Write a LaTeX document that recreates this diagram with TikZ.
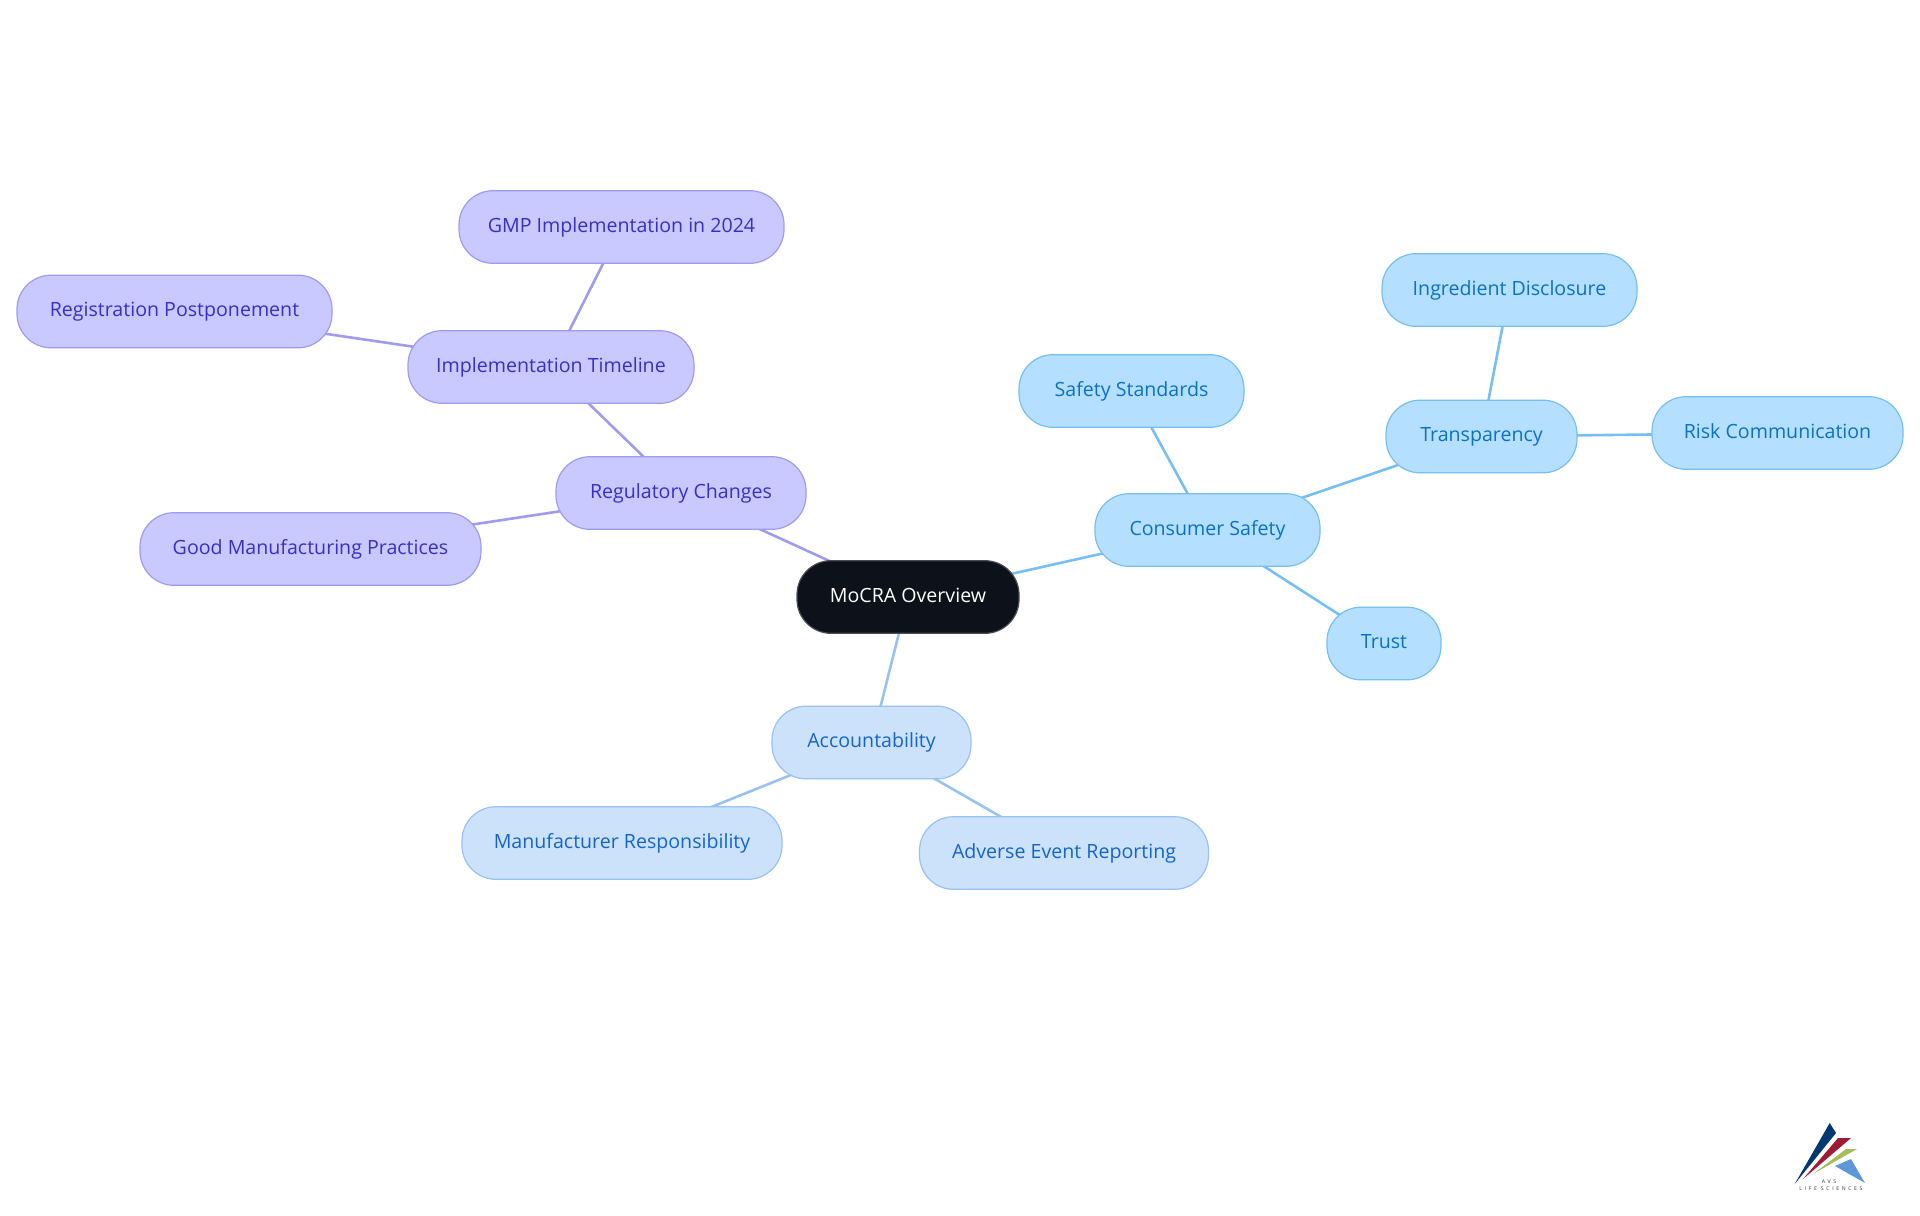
\documentclass[tikz,border=0pt]{standalone}
\usepackage{fontspec}
\setmainfont{Open Sans}
\usetikzlibrary{backgrounds}
\definecolor{rootfill}{HTML}{0C111A}
\definecolor{violetfill}{HTML}{C9C9FF}
\definecolor{violetline}{HTML}{9E9BF0}
\definecolor{violettext}{HTML}{3A2FC4}
\definecolor{skyfill}{HTML}{B5DFFF}
\definecolor{skyline}{HTML}{75BFF2}
\definecolor{skytext}{HTML}{0A72C4}
\definecolor{palefill}{HTML}{CCE2FB}
\definecolor{paleline}{HTML}{97C2F2}
\definecolor{paletext}{HTML}{1565C8}
\tikzset{
  mapnode/.style={rectangle,rounded corners=17pt,minimum height=36.3pt,inner sep=0pt,line width=0.6pt,text height=7.4pt,text depth=2.1pt,font=\fontsize{9.8}{12}\selectfont},
  rootnode/.style={mapnode,fill=rootfill,draw=rootfill!75!white,text=white},
  violetnode/.style={mapnode,fill=violetfill,draw=violetline,text=violettext},
  skynode/.style={mapnode,fill=skyfill,draw=skyline,text=skytext},
  palenode/.style={mapnode,fill=palefill,draw=paleline,text=paletext},
  mapedge/.style={line width=1.3pt},
  logotext/.style={inner sep=0pt,font=\fontsize{2.6}{3}\selectfont\addfontfeature{LetterSpace=50},text=black!80},
}
\begin{document}
\begin{tikzpicture}[x=0.5pt,y=-0.5pt]
  \useasboundingbox (0,0) rectangle (1920,1215);
  \node (root) [rootnode,minimum width=111pt] at (908,597) {MoCRA Overview};
  % regulatory branch
  \foreach \n/\x/\y/\w/\t in {reg/681/493/125/Regulatory Changes,
      timeline/551/367/143/Implementation Timeline,
      gmp/621.5/227/162.5/GMP Implementation in 2024,
      postpone/174.5/311.5/157.5/Registration Postponement,
      practices/310.5/549/170.5/Good Manufacturing Practices}{
    \node (\n) [violetnode,minimum width=\w pt] at (\x,\y) {\t};
  }
  % safety branch
  \foreach \n/\x/\y/\w/\t in {safety/1207.5/530/112.5/Consumer Safety,
      standards/1131.5/391/112.5/Safety Standards,
      transparency/1481.5/436.5/95.5/Transparency,
      ingredient/1509.5/290/127.5/Ingredient Disclosure,
      risk/1777.5/433/125.5/Risk Communication,
      trust/1384/643.5/57/Trust}{
    \node (\n) [skynode,minimum width=\w pt] at (\x,\y) {\t};
  }
  % accountability branch
  \foreach \n/\x/\y/\w/\t in {account/871.5/742.5/99.5/Accountability,
      maker/622/843/160/Manufacturer Responsibility,
      adverse/1064/853/144.5/Adverse Event Reporting}{
    \node (\n) [palenode,minimum width=\w pt] at (\x,\y) {\t};
  }
  \begin{scope}[on background layer]
    \foreach \a/\b in {root/reg,reg/timeline,timeline/gmp,timeline/postpone,reg/practices}{
      \draw [mapedge,violetline] (\a.center) to (\b.center);
    }
    \foreach \a/\b in {root/safety,safety/standards,safety/transparency,transparency/ingredient,transparency/risk,safety/trust}{
      \draw [mapedge,skyline] (\a.center) to (\b.center);
    }
    \foreach \a/\b in {root/account,account/maker,account/adverse}{
      \draw [mapedge,paleline] (\a.center) to (\b.center);
    }
  \end{scope}
  % logo
  \fill [color={rgb,255:red,0;green,56;blue,112}] (1829.7,1123) -- (1836,1133) -- (1794.7,1184) -- cycle;
  \fill [color={rgb,255:red,160;green,28;blue,52}] (1838,1138) -- (1851,1138) -- (1803,1179) -- cycle;
  \fill [color={rgb,255:red,168;green,188;blue,92}] (1846,1149) -- (1857,1149) -- (1813,1174) -- cycle;
  \fill [color={rgb,255:red,92;green,152;blue,216}] (1835,1166) -- (1851,1159) -- (1865,1183) -- cycle;
  \node (avs) [logotext] at (1829,1182) {AVS};
  \node (life) [logotext] at (1831,1189) {LIFE SCIENCES};
\end{tikzpicture}
\end{document}
